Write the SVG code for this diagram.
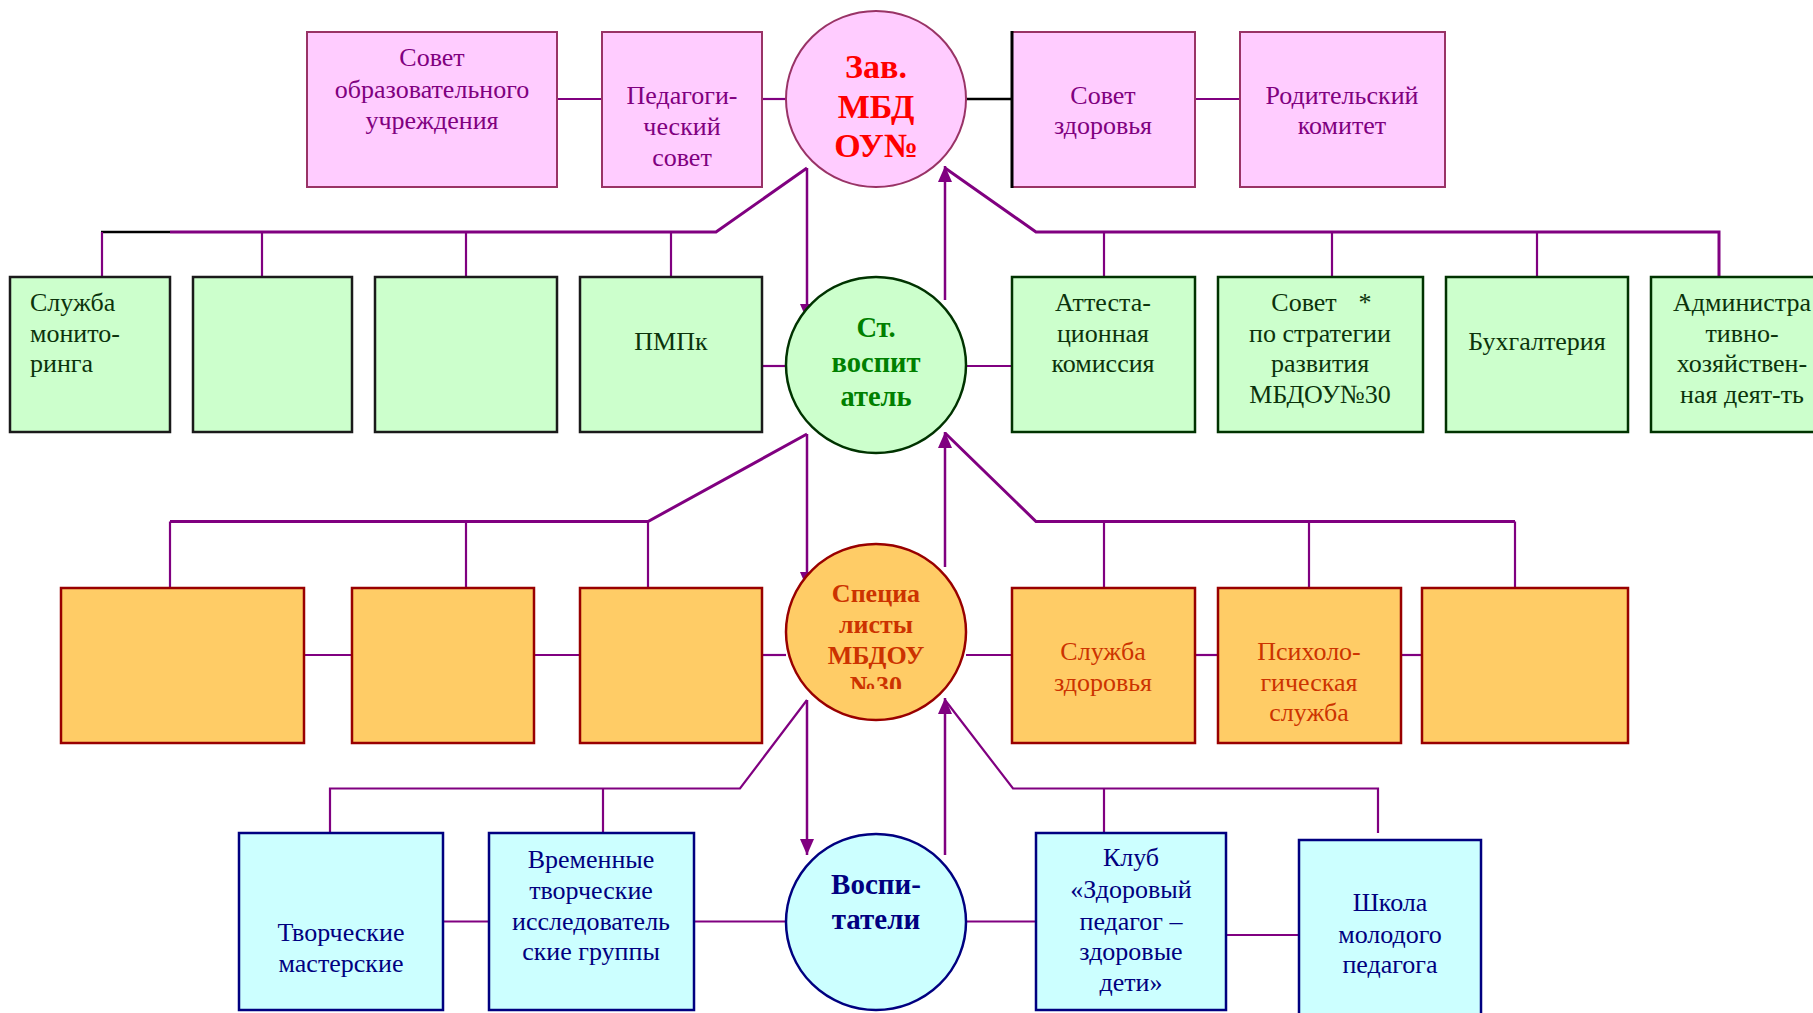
<svg xmlns="http://www.w3.org/2000/svg" width="1813" height="1013" viewBox="0 0 1813 1013">
<style>
text{font-family:"Liberation Serif","Times New Roman",serif;text-anchor:middle;font-size:26px}
.pk{fill:#ffccff;stroke:#993366;stroke-width:2}
.gr{fill:#ccffcc;stroke:#003300;stroke-width:2.5}
.grL{fill:#ccffcc;stroke:#1a1a1a;stroke-width:2.5}
.or{fill:#ffcc66;stroke:#990000;stroke-width:2.5}
.cy{fill:#ccffff;stroke:#000080;stroke-width:2.5}
.tpk{fill:#800080}
.tgr{fill:#0b330b}
.tor{fill:#cc3300}
.tcy{fill:#000080}
.c{fill:none;stroke:#800080;stroke-width:2.2}
.h{fill:none;stroke:#800080;stroke-width:3}
.blk{fill:none;stroke:#000000;stroke-width:2.5}
.ar{fill:none;stroke:#800080;stroke-width:2.5;marker-end:url(#ah)}
</style>
<defs>
<marker id="ah" viewBox="0 0 16 14" refX="16" refY="7" markerWidth="16" markerHeight="14" markerUnits="userSpaceOnUse" orient="auto">
<path d="M0,0 L16,7 L0,14 z" fill="#800080"/>
</marker>
<clipPath id="clip3"><rect x="785" y="540" width="182" height="149"/></clipPath>
</defs>

<g id="connectors">
<line class="c" x1="557" y1="99" x2="602" y2="99"/>
<line class="c" x1="762" y1="99" x2="786" y2="99"/>
<line class="blk" x1="966" y1="99" x2="1012" y2="99"/>
<line class="c" x1="1195" y1="99" x2="1240" y2="99"/>
<polyline class="h" points="807,168 716,232 170,232"/>
<line class="blk" x1="170" y1="232" x2="101" y2="232"/>
<line class="c" x1="102" y1="232" x2="102" y2="276"/>
<line class="c" x1="262" y1="232" x2="262" y2="276"/>
<line class="c" x1="466" y1="232" x2="466" y2="276"/>
<line class="c" x1="671" y1="232" x2="671" y2="276"/>
<polyline class="h" points="945,168 1036,232 1719,232 1719,276"/>
<line class="c" x1="1104" y1="232" x2="1104" y2="276"/>
<line class="c" x1="1332" y1="232" x2="1332" y2="276"/>
<line class="c" x1="1537" y1="232" x2="1537" y2="276"/>
<line class="ar" x1="807" y1="168" x2="807" y2="320"/>
<line class="ar" x1="945" y1="300" x2="945" y2="166"/>
<line class="c" x1="762" y1="366" x2="786" y2="366"/>
<line class="c" x1="966" y1="366" x2="1012" y2="366"/>
<polyline class="h" points="807,434 648,521.5 170,521.5"/>
<line class="c" x1="170" y1="521.5" x2="170" y2="588"/>
<line class="c" x1="466" y1="521.5" x2="466" y2="588"/>
<line class="c" x1="648" y1="521.5" x2="648" y2="588"/>
<polyline class="h" points="945,433 1036,521.5 1515,521.5"/>
<line class="c" x1="1104" y1="521.5" x2="1104" y2="588"/>
<line class="c" x1="1309" y1="521.5" x2="1309" y2="588"/>
<line class="c" x1="1515" y1="521.5" x2="1515" y2="588"/>
<line class="ar" x1="807" y1="434" x2="807" y2="588"/>
<line class="ar" x1="945" y1="567" x2="945" y2="432"/>
<line class="c" x1="304" y1="655" x2="352" y2="655"/>
<line class="c" x1="534" y1="655" x2="580" y2="655"/>
<line class="c" x1="762" y1="655" x2="786" y2="655"/>
<line class="c" x1="966" y1="655" x2="1012" y2="655"/>
<line class="c" x1="1195" y1="655" x2="1218" y2="655"/>
<line class="c" x1="1401" y1="655" x2="1422" y2="655"/>
<polyline class="c" points="807,700 740,788.5 330,788.5 330,833"/>
<line class="c" x1="603" y1="788.5" x2="603" y2="833"/>
<polyline class="c" points="945,700 1013,788.5 1378,788.5 1378,833"/>
<line class="c" x1="1104" y1="788.5" x2="1104" y2="833"/>
<line class="ar" x1="807" y1="700" x2="807" y2="855"/>
<line class="ar" x1="945" y1="855" x2="945" y2="698"/>
<line class="c" x1="443" y1="921.5" x2="489" y2="921.5"/>
<line class="c" x1="694" y1="921.5" x2="786" y2="921.5"/>
<line class="c" x1="966" y1="921.5" x2="1035" y2="921.5"/>
<line class="c" x1="1226" y1="935" x2="1299" y2="935"/>
</g>

<g id="sovet-obr">
<rect class="pk" x="307" y="32" width="250" height="155"/>
<text class="tpk" x="432" y="66">Совет</text>
<text class="tpk" x="432" y="98">образовательного</text>
<text class="tpk" x="432" y="129">учреждения</text>
</g>
<g id="ped-sovet">
<rect class="pk" x="602" y="32" width="160" height="155"/>
<text class="tpk" x="682" y="104">Педагоги-</text>
<text class="tpk" x="682" y="135">ческий</text>
<text class="tpk" x="682" y="166">совет</text>
</g>
<g id="zav">
<ellipse cx="876" cy="99" rx="90" ry="88" fill="#ffccff" stroke="#993366" stroke-width="2"/>
<text x="876" y="78" style="font-size:34px;font-weight:bold;fill:#ff0000">Зав.</text>
<text x="876" y="118" style="font-size:34px;font-weight:bold;fill:#ff0000">МБД</text>
<text x="876" y="157" style="font-size:34px;font-weight:bold;fill:#ff0000">ОУ№</text>
</g>
<g id="sovet-zdor">
<rect class="pk" x="1012" y="32" width="183" height="155"/>
<line x1="1012" y1="31" x2="1012" y2="188" stroke="#000000" stroke-width="3"/>
<text class="tpk" x="1103" y="104">Совет</text>
<text class="tpk" x="1103" y="134">здоровья</text>
</g>
<g id="rod-komitet">
<rect class="pk" x="1240" y="32" width="205" height="155"/>
<text class="tpk" x="1342" y="104">Родительский</text>
<text class="tpk" x="1342" y="134">комитет</text>
</g>

<g id="sl-monitoring">
<rect class="grL" x="10" y="277" width="160" height="155"/>
<text class="tgr" x="30" y="311" style="text-anchor:start">Служба</text>
<text class="tgr" x="30" y="342" style="text-anchor:start">монито-</text>
<text class="tgr" x="30" y="372" style="text-anchor:start">ринга</text>
</g>
<g id="green-2"><rect class="grL" x="193" y="277" width="159" height="155"/></g>
<g id="green-3"><rect class="grL" x="375" y="277" width="182" height="155"/></g>
<g id="pmpk">
<rect class="grL" x="580" y="277" width="182" height="155"/>
<text class="tgr" x="671" y="350">ПМПк</text>
</g>
<g id="st-vosp">
<ellipse cx="876" cy="365" rx="90" ry="88" fill="#ccffcc" stroke="#003300" stroke-width="2.5"/>
<text x="876" y="337" style="font-size:28.5px;font-weight:bold;fill:#008000">Ст.</text>
<text x="876" y="372" style="font-size:28.5px;font-weight:bold;fill:#008000">воспит</text>
<text x="876" y="406" style="font-size:28.5px;font-weight:bold;fill:#008000">атель</text>
</g>
<g id="attest">
<rect class="gr" x="1012" y="277" width="183" height="155"/>
<text class="tgr" x="1103" y="311">Аттеста-</text>
<text class="tgr" x="1103" y="342">ционная</text>
<text class="tgr" x="1103" y="372">комиссия</text>
</g>
<g id="sovet-strat">
<rect class="gr" x="1218" y="277" width="205" height="155"/>
<text class="tgr" x="1304" y="311">Совет<tspan x="1365">*</tspan></text>
<text class="tgr" x="1320" y="342">по стратегии</text>
<text class="tgr" x="1320" y="372">развития</text>
<text class="tgr" x="1320" y="403">МБДОУ№30</text>
</g>
<g id="buh">
<rect class="gr" x="1446" y="277" width="182" height="155"/>
<text class="tgr" x="1537" y="350">Бухгалтерия</text>
</g>
<g id="adm">
<rect class="gr" x="1651" y="277" width="190" height="155"/>
<text class="tgr" x="1742" y="311">Администра</text>
<text class="tgr" x="1742" y="342">тивно-</text>
<text class="tgr" x="1742" y="372">хозяйствен-</text>
<text class="tgr" x="1742" y="403">ная деят-ть</text>
</g>

<g id="orange-1"><rect class="or" x="61" y="588" width="243" height="155"/></g>
<g id="orange-2"><rect class="or" x="352" y="588" width="182" height="155"/></g>
<g id="orange-3"><rect class="or" x="580" y="588" width="182" height="155"/></g>
<g id="specialisty">
<ellipse cx="876" cy="632" rx="90" ry="88" fill="#ffcc66" stroke="#990000" stroke-width="2.5"/>
<g clip-path="url(#clip3)" style="font-weight:bold">
<text class="tor" x="876" y="602">Специа</text>
<text class="tor" x="876" y="633">листы</text>
<text class="tor" x="876" y="664">МБДОУ</text>
<text class="tor" x="876" y="694">№30</text>
</g>
</g>
<g id="sl-zdorovya">
<rect class="or" x="1012" y="588" width="183" height="155"/>
<text class="tor" x="1103" y="660">Служба</text>
<text class="tor" x="1103" y="691">здоровья</text>
</g>
<g id="psih">
<rect class="or" x="1218" y="588" width="183" height="155"/>
<text class="tor" x="1309" y="660">Психоло-</text>
<text class="tor" x="1309" y="691">гическая</text>
<text class="tor" x="1309" y="721">служба</text>
</g>
<g id="orange-r3"><rect class="or" x="1422" y="588" width="206" height="155"/></g>

<g id="tv-masterskie">
<rect class="cy" x="239" y="833" width="204" height="177"/>
<text class="tcy" x="341" y="941">Творческие</text>
<text class="tcy" x="341" y="972">мастерские</text>
</g>
<g id="vr-gruppy">
<rect class="cy" x="489" y="833" width="205" height="177"/>
<text class="tcy" x="591" y="868">Временные</text>
<text class="tcy" x="591" y="899">творческие</text>
<text class="tcy" x="591" y="930">исследователь</text>
<text class="tcy" x="591" y="960">ские группы</text>
</g>
<g id="vospitateli">
<ellipse cx="876" cy="922" rx="90" ry="88" fill="#ccffff" stroke="#000080" stroke-width="2.5"/>
<text x="876" y="894" style="font-size:29px;font-weight:bold;fill:#000080">Воспи-</text>
<text x="876" y="929" style="font-size:29px;font-weight:bold;fill:#000080">татели</text>
</g>
<g id="klub">
<rect class="cy" x="1036" y="833" width="190" height="177"/>
<text class="tcy" x="1131" y="866">Клуб</text>
<text class="tcy" x="1131" y="898">«Здоровый</text>
<text class="tcy" x="1131" y="930">педагог –</text>
<text class="tcy" x="1131" y="960">здоровые</text>
<text class="tcy" x="1131" y="991">дети»</text>
</g>
<g id="shkola">
<rect class="cy" x="1299" y="840" width="182" height="185"/>
<text class="tcy" x="1390" y="911">Школа</text>
<text class="tcy" x="1390" y="943">молодого</text>
<text class="tcy" x="1390" y="973">педагога</text>
</g>
</svg>
